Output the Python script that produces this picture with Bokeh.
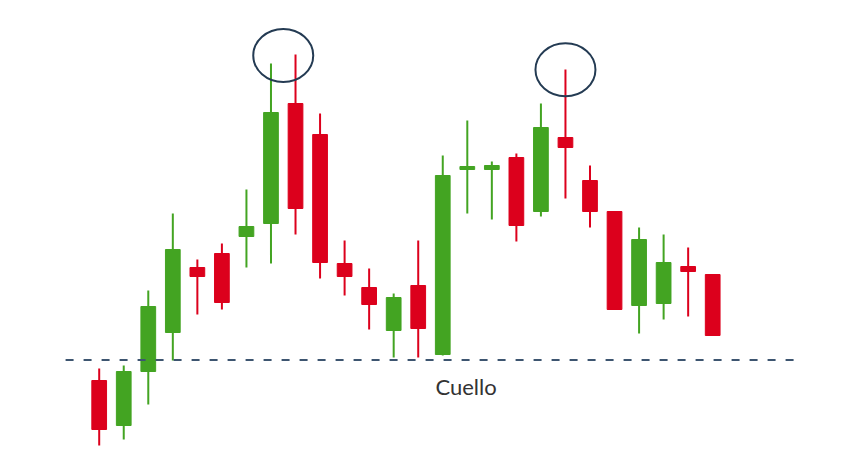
from bokeh.plotting import figure
from bokeh.models import ColumnDataSource, Range1d
from bokeh.core.properties import value
from bokeh.embed import file_html
from bokeh.resources import INLINE

# Candle data (arbitrary price units)
idx = list(range(1, 27))
opens = [8.0, 3.5, 8.9, 12.8, 19.3, 20.7, 22.4, 23.7, 35.7, 32.6, 19.7, 17.3, 13.0,
         17.5, 10.6, 29.1, 29.1, 30.3, 24.9, 32.3, 28.0, 24.9, 15.5, 15.7, 19.4, 18.6]
highs = [9.2, 9.5, 17.0, 24.7, 20.1, 21.7, 27.1, 39.7, 40.6, 34.7, 22.0, 19.2, 16.7,
         22.0, 30.5, 34.0, 29.9, 30.7, 35.7, 39.1, 29.5, 24.9, 23.3, 22.6, 21.3, 18.6]
lows = [1.5, 2.1, 5.6, 10.0, 14.6, 15.1, 19.3, 19.7, 22.6, 18.2, 16.5, 13.1, 10.3,
        10.3, 10.5, 24.7, 24.1, 21.9, 24.4, 26.2, 23.3, 15.1, 12.7, 14.1, 14.4, 12.5]
closes = [3.1, 8.9, 15.4, 21.1, 18.4, 15.8, 23.4, 34.8, 25.2, 19.8, 18.4, 15.6, 16.3,
          13.2, 28.5, 29.4, 29.5, 23.5, 33.3, 31.3, 24.9, 15.1, 22.1, 19.8, 18.9, 12.5]

neck_level = 10.05
neck_label = "Cuello"
peak_x = [8.5, 20]
peak_y = [40.5, 39.07]

GREEN = "#43a422"
RED = "#dc001c"

colors = [GREEN if c >= o else RED for o, c in zip(opens, closes)]
tops = [max(o, c) for o, c in zip(opens, closes)]
bots = [min(o, c) for o, c in zip(opens, closes)]

src = ColumnDataSource(dict(x=idx, high=highs, low=lows, top=tops, bottom=bots, color=colors))

x_unit = 24.54
x_start = 1 - 98.7 / x_unit
p = figure(width=848, height=458, output_backend="svg", toolbar_location=None,
           x_range=Range1d(x_start, x_start + 848 / x_unit), y_range=Range1d(0.2, 46.0),
           min_border=0)
p.axis.visible = False
p.grid.visible = False
p.outline_line_color = None
p.background_fill_color = "white"
p.border_fill_color = "white"

p.segment(x0="x", y0="low", x1="x", y1="high", color="color", line_width=2, source=src)
p.vbar(x="x", top="top", bottom="bottom", width=0.6, fill_color="color",
       line_color="color", line_width=1, source=src)

p.line(x=[-0.37, 29.37], y=[neck_level, neck_level], line_color="#3d5570",
       line_width=2, line_dash="8 10")

p.text(x=[15.95], y=[7.4], text=[neck_label], text_align="center", text_baseline="middle",
       text_font=value("Lato"), text_font_size="22px", text_color="#333333")

p.ellipse(x=peak_x, y=peak_y, width=2.445, height=5.3, fill_color=None,
          line_color="#243b53", line_width=2)

open("out.html", "w").write(file_html(p, INLINE))
